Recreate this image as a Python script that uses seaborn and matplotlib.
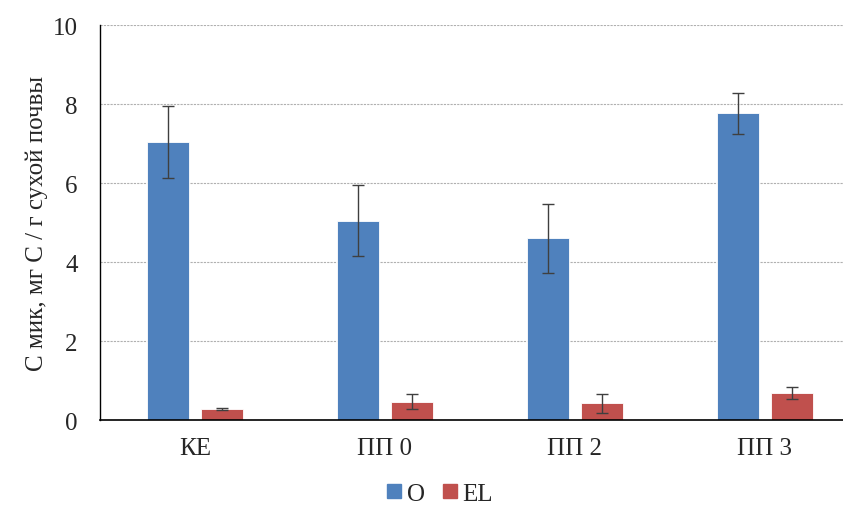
import matplotlib
matplotlib.use("Agg")
import matplotlib.pyplot as plt
import seaborn as sns
import pandas as pd
from matplotlib.lines import Line2D

# Microbial biomass carbon by plot and soil horizon
categories = ["КЕ", "ПП 0", "ПП 2", "ПП 3"]
horizons = ["O", "EL"]
o_values = [7.03, 5.05, 4.60, 7.76]
o_errors = [0.91, 0.89, 0.87, 0.52]
el_values = [0.28, 0.46, 0.43, 0.68]
el_errors = [0.02, 0.19, 0.24, 0.16]
y_ticks = [0, 2, 4, 6, 8, 10]

colors = {"O": "#4F81BD", "EL": "#C0504D"}

df = pd.DataFrame({
    "plot": categories * 2,
    "horizon": ["O"] * len(categories) + ["EL"] * len(categories),
    "value": o_values + el_values,
    "err": o_errors + el_errors,
})

sns.set_style("white")
plt.rcParams["font.family"] = ["Liberation Serif", "DejaVu Serif"]

fig = plt.figure(figsize=(8.43, 5.10), dpi=100)
ax = fig.add_axes([0.1183, 0.1745, 0.8818, 0.7745])

sns.barplot(data=df, x="plot", y="value", hue="horizon", order=categories,
            hue_order=horizons, palette=colors, width=0.568, gap=0.222,
            errorbar=None, ax=ax, legend=False, saturation=1,
            edgecolor="white", linewidth=0.6)

# error bars placed at the centre/top of each drawn bar
errs = {("O", c): e for c, e in zip(categories, o_errors)}
errs.update({("EL", c): e for c, e in zip(categories, el_errors)})
for container, h in zip(ax.containers, horizons):
    for bar, c in zip(container, categories):
        xc = bar.get_x() + bar.get_width() / 2
        ax.errorbar(xc, bar.get_height(), yerr=errs[(h, c)], fmt="none",
                    ecolor="#3F3F3F", elinewidth=1.0, capsize=4, capthick=1.0,
                    zorder=5)

ax.set_ylim(0, 10)
ax.set_xlim(-0.5, 3.412)
ax.set_yticks(y_ticks)
ax.set_yticklabels([str(t) for t in y_ticks], fontsize=18)
ax.tick_params(axis="y", length=0, pad=16)
ax.tick_params(axis="x", length=0, pad=12, labelsize=18)
ax.set_xlabel("")
ax.set_ylabel("С мик, мг С / г сухой почвы", fontsize=18, labelpad=3)

ax.yaxis.grid(True, color="#B0B0B0", linestyle=(0, (2, 1)), linewidth=0.8)
ax.set_axisbelow(True)
for side in ("top", "right"):
    ax.spines[side].set_visible(False)
ax.spines["left"].set_color("#000000")
ax.spines["bottom"].set_color("#000000")
ax.spines["left"].set_linewidth(1.0)
ax.spines["bottom"].set_linewidth(1.2)

handles = [Line2D([], [], marker="s", linestyle="none", markersize=10,
                  markerfacecolor=colors[h], markeredgecolor=colors[h])
           for h in horizons]
fig.legend(handles, horizons, loc="lower center", bbox_to_anchor=(0.52, -0.022),
           ncol=2, frameon=False, fontsize=18, handlelength=0.8,
           handletextpad=0.1, columnspacing=0.6, borderpad=0.1)

fig.savefig("out.png", dpi=100)
